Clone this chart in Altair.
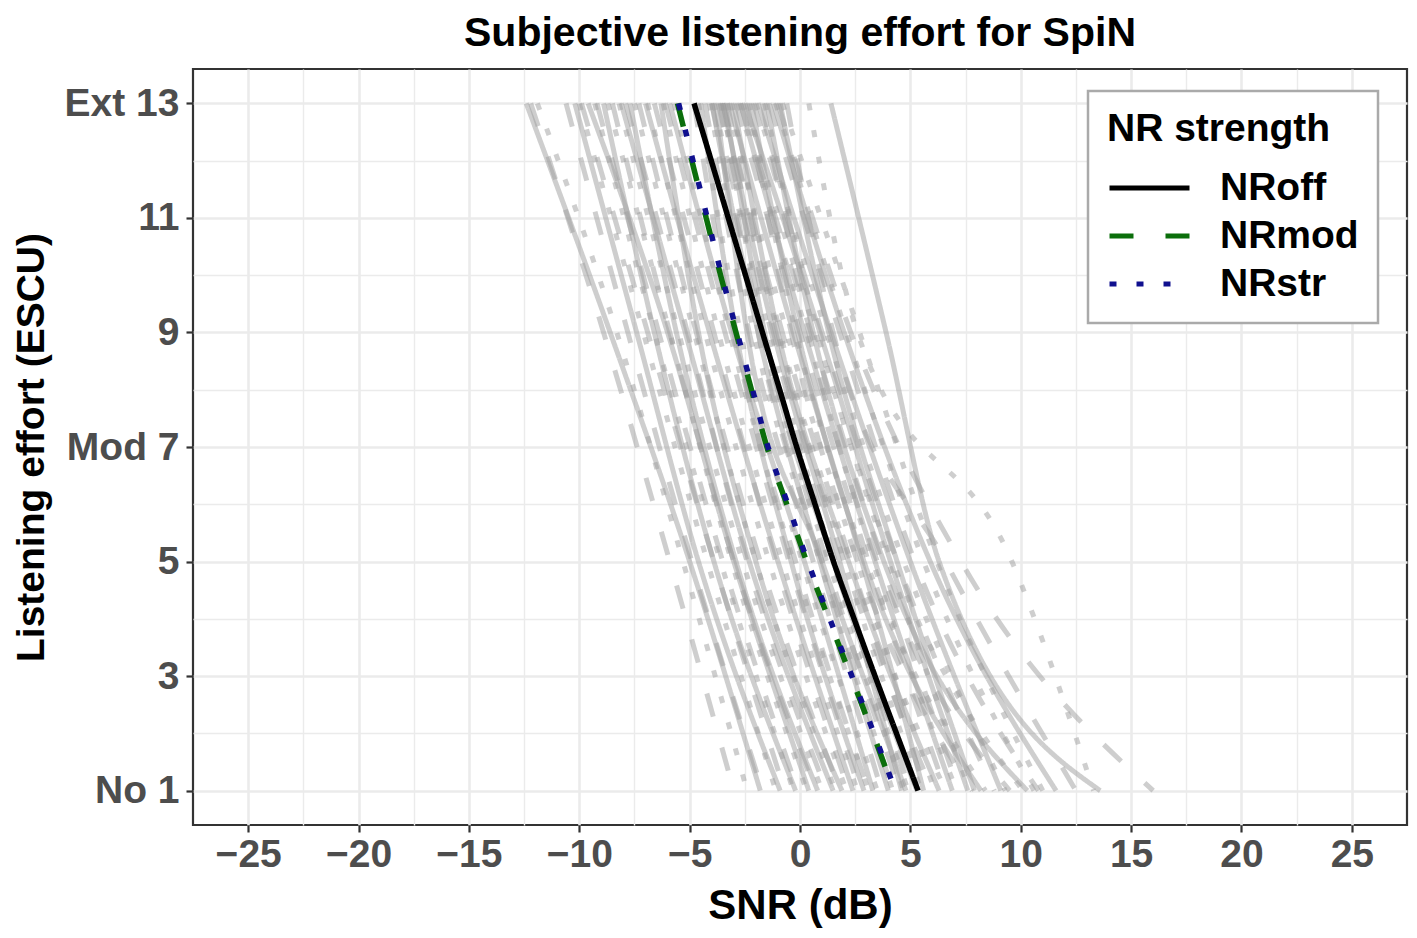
import altair as alt
import pandas as pd

# ---------------- data ----------------
conditions = ["NRoff", "NRmod", "NRstr"]
cond_colors = ["#000000", "#0B6E0B", "#10108F"]
cond_dashes = [[1, 0], [24, 32], [7, 20]]

# individual participant fits: x (SNR, dB) at effort levels 13, 9, 5, 1
gray_levels = [13, 9, 5, 1]
gray_off = [
    [-12.4, -8.6, -5.0, -1.8], [-10.2, -7.4, -4.6, -0.9], [-9.6, -6.0, -3.0, 0.4],
    [-8.9, -6.6, -3.9, -0.2], [-8.1, -5.2, -2.3, 1.5], [-7.7, -5.6, -2.9, 0.8],
    [-7.0, -4.1, -1.0, 2.4], [-6.3, -4.6, -2.0, 1.9], [-5.9, -3.1, 0.2, 3.3],
    [-4.5, -2.9, -0.4, 2.9], [-4.0, -1.9, 0.9, 4.0], [-3.8, -2.4, 1.0, 4.8],
    [-3.5, -1.2, 1.8, 4.6], [-3.2, -0.3, 2.8, 5.6], [-3.0, -1.0, 2.2, 6.3],
    [-2.7, 0.2, 3.4, 6.9], [-2.5, 0.9, 4.1, 7.6], [-2.2, -0.1, 2.9, 8.2],
    [-1.9, 1.4, 5.0, 9.1], [-1.5, 0.6, 3.8, 10.3], [-1.2, 2.0, 5.9, 11.6],
    [-0.9, 1.3, 4.4, 7.9], [1.4, 3.9, 6.3, 13.6], [-3.4, -1.6, 1.5, 5.3],
]
gray_mod = [
    [-12.2, -8.9, -5.9, -3.0], [-10.6, -7.8, -4.9, -1.7], [-9.9, -6.9, -3.9, -0.7],
    [-9.2, -6.4, -3.5, -0.1], [-8.5, -5.9, -3.0, 0.7], [-7.9, -5.1, -2.4, 1.2],
    [-7.3, -4.7, -1.8, 1.8], [-6.6, -3.9, -1.1, 2.2], [-6.1, -3.4, -0.5, 2.7],
    [-4.8, -3.0, -0.2, 3.1], [-4.3, -2.3, 0.6, 3.7], [-4.0, -1.7, 1.2, 4.5],
    [-3.7, -1.3, 1.6, 5.0], [-3.5, -0.8, 2.3, 5.7], [-3.3, -1.1, 2.0, 6.0],
    [-2.9, 0.0, 3.1, 6.6], [-2.7, 0.5, 3.7, 7.2], [-2.4, -0.4, 2.6, 7.8],
    [-2.1, 1.0, 4.4, 8.8], [-1.7, 0.4, 3.5, 9.5], [-1.4, 1.8, 5.2, 10.8],
    [-1.0, 2.3, 7.3, 16.0], [-0.6, 1.5, 6.6, 12.5], [-3.6, -1.9, 1.0, 4.2],
]
gray_str = [
    [-11.9, -8.3, -5.3, -2.4], [-10.0, -7.1, -4.2, -1.1], [-9.3, -6.6, -3.6, -0.3],
    [-8.7, -5.9, -3.1, 0.3], [-8.2, -5.5, -2.6, 1.0], [-7.5, -4.8, -2.0, 1.6],
    [-6.9, -4.3, -1.4, 2.1], [-6.2, -3.7, -0.8, 2.6], [-5.7, -3.2, -0.3, 3.1],
    [-4.6, -2.7, 0.1, 3.5], [-4.1, -2.1, 0.9, 4.2], [-3.9, -1.4, 1.5, 4.9],
    [-3.6, -1.0, 2.0, 5.5], [-3.3, -0.6, 2.6, 6.1], [-3.1, -0.9, 2.3, 6.6],
    [-2.8, 0.3, 3.3, 7.1], [-2.6, 0.7, 4.0, 7.7], [-2.3, -0.2, 3.0, 8.4],
    [-2.0, 1.2, 4.7, 9.3], [-1.6, 0.8, 4.2, 10.1], [-0.8, 2.7, 6.2, 11.0],
    [0.4, 2.6, 9.6, 13.3], [-1.1, 2.1, 5.6, 10.6], [-3.5, -1.7, 1.3, 4.7],
]

# group mean curves: x (SNR, dB) at effort levels 13..1
mean_levels = [13, 12, 11, 10, 9, 8, 7, 6, 5, 4, 3, 2, 1]
mean_off = [-4.8, -4.02, -3.25, -2.47, -1.7, -0.92, -0.15, 0.68, 1.52, 2.45, 3.4, 4.37, 5.35]
mean_mod = [-5.55, -4.9, -4.25, -3.6, -2.9, -2.2, -1.5, -0.6, 0.3, 1.3, 2.3, 3.3, 4.25]
mean_str = [-5.5, -4.85, -4.2, -3.55, -2.85, -2.15, -1.45, -0.55, 0.35, 1.35, 2.35, 3.35, 4.32]

x_domain = [-27.5, 27.5]
y_domain = [0.4, 13.6]
x_major = [-25, -20, -15, -10, -5, 0, 5, 10, 15, 20, 25]
x_grid = [-25, -22.5, -20, -17.5, -15, -12.5, -10, -7.5, -5, -2.5, 0,
          2.5, 5, 7.5, 10, 12.5, 15, 17.5, 20, 22.5, 25]
y_major = [1, 3, 5, 7, 9, 11, 13]
y_major_labels = ["No 1", "3", "5", "Mod 7", "9", "11", "Ext 13"]
y_grid = [1, 2, 3, 4, 5, 6, 7, 8, 9, 10, 11, 12, 13]

FONT = "Liberation Sans"

# ---------------- tables ----------------
gray_sets = {"NRoff": gray_off, "NRmod": gray_mod, "NRstr": gray_str}
gray_rows = []
for cond, lines in gray_sets.items():
    for pid, xs in enumerate(lines):
        for yv, xv in zip(gray_levels, xs):
            gray_rows.append({"cond": cond, "pid": pid, "snr": xv, "effort": yv})
gray_df = pd.DataFrame(gray_rows)

mean_sets = {"NRoff": mean_off, "NRmod": mean_mod, "NRstr": mean_str}
mean_rows = []
for cond, xs in mean_sets.items():
    for yv, xv in zip(mean_levels, xs):
        mean_rows.append({"cond": cond, "snr": xv, "effort": yv})
mean_df = pd.DataFrame(mean_rows)

# ---------------- axes ----------------
x_major_str = ",".join(str(v) for v in x_major)
x_is_major = f"indexof([{x_major_str}], datum.value) >= 0"
y_is_major = "datum.value % 2 === 1"
y_label_expr = "''"
for v, lab in reversed(list(zip(y_major, y_major_labels))):
    y_label_expr = f"datum.value === {v} ? '{lab}' : ({y_label_expr})"

x_axis = alt.Axis(
    values=x_grid, title="SNR (dB)", labelExpr=f"{x_is_major} ? datum.label : ''",
    grid=True, gridColor="#EBEBEB",
    gridWidth={"condition": {"test": x_is_major, "value": 2.6}, "value": 1.4},
    tickColor={"condition": {"test": x_is_major, "value": "#333333"}, "value": "transparent"},
    tickSize=7, tickWidth=2.2, domain=False, labelFlush=False, labelOverlap=False,
    labelFont=FONT, labelFontSize=39, labelFontWeight="bold", labelColor="#4D4D4D",
    labelPadding=3,
    titleFont=FONT, titleFontSize=42, titleFontWeight="bold", titleColor="#000000",
    titleX=607, titleY=80, titleBaseline="middle",
)
y_axis = alt.Axis(
    values=y_grid, title="Listening effort (ESCU)", labelExpr=y_label_expr,
    grid=True, gridColor="#EBEBEB",
    gridWidth={"condition": {"test": y_is_major, "value": 2.6}, "value": 1.4},
    tickColor={"condition": {"test": y_is_major, "value": "#333333"}, "value": "transparent"},
    tickSize=7, tickWidth=2.2, domain=False, labelOverlap=False, labelFlush=False,
    labelFont=FONT, labelFontSize=39, labelFontWeight="bold", labelColor="#4D4D4D",
    labelPadding=7,
    titleFont=FONT, titleFontSize=39, titleFontWeight="bold", titleColor="#000000",
    titleX=-162, titleY=378, titleBaseline="middle", titleAngle=-90,
)

x_enc = alt.X("snr:Q", scale=alt.Scale(domain=x_domain, nice=False, zero=False), axis=x_axis)
y_enc = alt.Y("effort:Q", scale=alt.Scale(domain=y_domain, nice=False, zero=False), axis=y_axis)

layers = []
for cond, dash in zip(conditions, cond_dashes):
    layers.append(
        alt.Chart(gray_df)
        .transform_filter(alt.datum.cond == cond)
        .mark_line(color="#9E9E9E", opacity=0.5, strokeWidth=5, strokeDash=dash,
                   interpolate="monotone")
        .encode(x=x_enc, y=y_enc, detail="pid:N", order="snr:Q")
    )

legend = alt.Legend(
    title="NR strength", orient="none", legendX=895, legendY=22,
    symbolType="stroke", symbolStrokeWidth=5, symbolSize=6400,
    labelFont=FONT, labelFontSize=39, labelFontWeight="bold", labelColor="#000000",
    titleFont=FONT, titleFontSize=39, titleFontWeight="bold", titleColor="#000000",
    titleLimit=500, labelLimit=500, clipHeight=40,
    labelOffset=28, padding=19, rowPadding=8, titlePadding=19,
    fillColor="#FFFFFF", strokeColor="#AAAAAA",
)
color_enc = alt.Color("cond:N", scale=alt.Scale(domain=conditions, range=cond_colors),
                      legend=legend)
dash_enc = alt.StrokeDash("cond:N", scale=alt.Scale(domain=conditions, range=cond_dashes),
                          legend=legend)

for cond in conditions:
    layers.append(
        alt.Chart(mean_df)
        .transform_filter(alt.datum.cond == cond)
        .mark_line(strokeWidth=5.5, interpolate="monotone")
        .encode(x=x_enc, y=y_enc, color=color_enc, strokeDash=dash_enc, order="snr:Q")
    )

chart = (
    alt.layer(*layers)
    .properties(
        width=1214, height=756,
        title=alt.TitleParams("Subjective listening effort for SpiN", font=FONT, fontSize=41,
                              fontWeight="bold", color="#000000", anchor="middle", offset=14),
        autosize=alt.AutoSizeParams(type="none"),
        padding={"left": 185, "top": 61, "right": 2, "bottom": 104},
    )
    .configure_view(stroke="#333333", strokeWidth=2.2)
    .configure_legend(strokeWidth=2.5)
)

chart.save("out.html", embed_options={"renderer": "svg", "actions": False})
